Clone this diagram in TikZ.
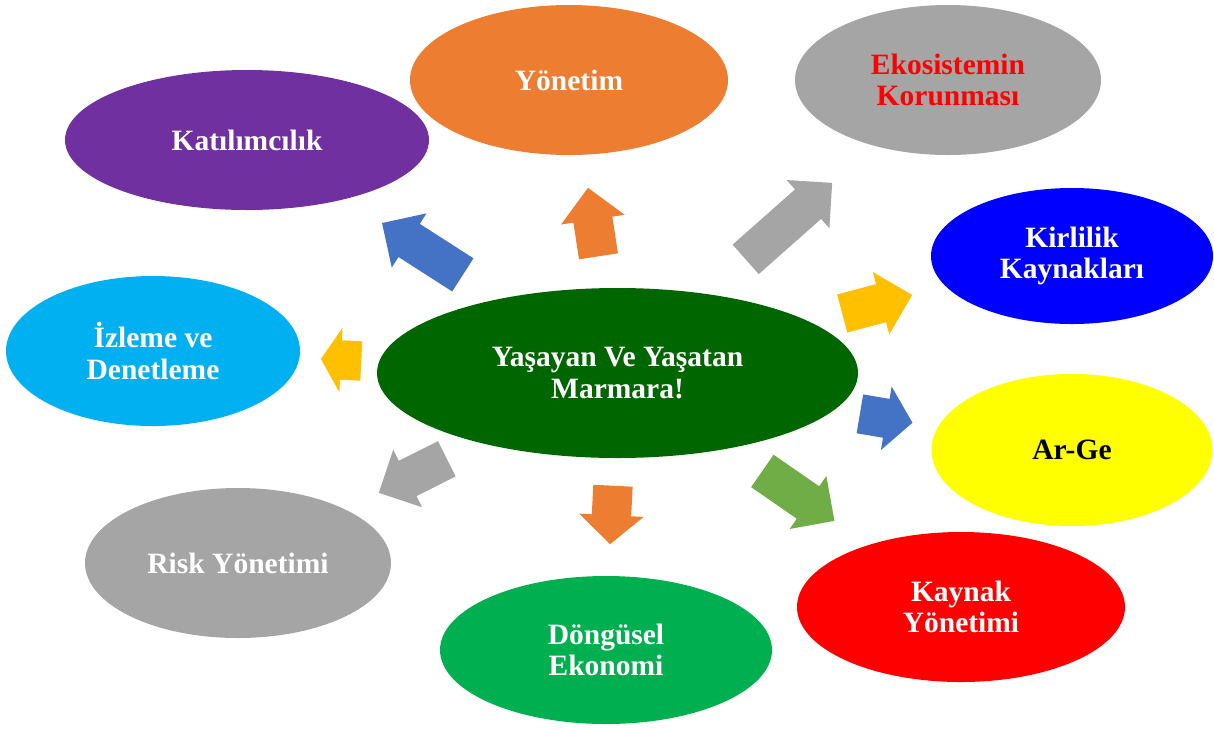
\documentclass[tikz,border=0pt]{standalone}
\usepackage{fontspec}
\setmainfont{Liberation Serif}
\usetikzlibrary{shapes.geometric,shapes.arrows}
\definecolor{cdgreen}{RGB}{0,102,0}
\definecolor{corange}{RGB}{237,125,49}
\definecolor{cgray}{RGB}{165,165,165}
\definecolor{cpurple}{RGB}{112,48,160}
\definecolor{cblue}{RGB}{0,0,255}
\definecolor{clblue}{RGB}{0,176,240}
\definecolor{cyellow}{RGB}{255,255,0}
\definecolor{cred}{RGB}{255,0,0}
\definecolor{cgreen}{RGB}{0,176,80}
\definecolor{abllue}{RGB}{68,114,196}
\definecolor{ayellow}{RGB}{255,192,0}
\definecolor{agreen}{RGB}{112,173,71}
\begin{document}
\begin{tikzpicture}[x=1pt,y=-1pt,
  bubble/.style={ellipse, inner sep=0pt, align=center,
    font=\fontsize{29.5}{31.5}\selectfont\bfseries, text=white},
  barr/.style={single arrow, anchor=tail, inner xsep=0pt, inner ysep=19.5pt, minimum width=64pt,
    single arrow head extend=12.5pt, draw=none}]
\useasboundingbox (0,0) rectangle (1214,729);
% ellipses
\node[bubble, fill=cdgreen, minimum width=481pt, minimum height=170pt] (center) at (617.5,373) {Yaşayan Ve Yaşatan\\Marmara!};
\node[bubble, fill=corange, minimum width=318pt, minimum height=150pt] (yonetim) at (569,80) {Yönetim};
\node[bubble, fill=cgray, text=cred, minimum width=306pt, minimum height=150pt] (eko) at (948,80) {Ekosistemin\\Korunması};
\node[bubble, fill=cpurple, minimum width=364pt, minimum height=140pt] (katil) at (247,140) {Katılımcılık};
\node[bubble, fill=cblue, minimum width=282pt, minimum height=136pt] (kirl) at (1072,256) {Kirlilik\\Kaynakları};
\node[bubble, fill=clblue, minimum width=294pt, minimum height=150pt] (izle) at (153,351) {İzleme ve\\Denetleme};
\node[bubble, fill=cyellow, text=black, minimum width=281pt, minimum height=152pt] (arge) at (1072,450) {Ar-Ge};
\node[bubble, fill=cgray, minimum width=306pt, minimum height=150pt] (risk) at (238,563) {Risk Yönetimi};
\node[bubble, fill=cred, minimum width=328pt, minimum height=150pt] (kaynak) at (961,607) {Kaynak\\Yönetimi};
\node[bubble, fill=cgreen, minimum width=332pt, minimum height=148pt] (dongu) at (606,650) {Döngüsel\\Ekonomi};
% block arrows (placed by their tail)
\node[barr, fill=abllue, minimum height=96pt, rotate=147.3] (a1) at (463,275) {};
\node[barr, fill=corange, minimum height=69.3pt, rotate=98.7] (a2) at (598.5,256.5) {};
\node[barr, fill=cgray, minimum height=115.5pt, rotate=41.5] (a3) at (745.5,259.5) {};
\node[barr, fill=ayellow, minimum height=72.4pt, rotate=14.8] (a4) at (842,313.5) {};
\node[barr, fill=ayellow, minimum height=40.5pt, single arrow tip angle=116, rotate=177.2] (a5) at (361.5,361) {};
\node[barr, fill=abllue, minimum height=53.3pt, single arrow tip angle=101, rotate=-9.6] (a6) at (859.7,413.8) {};
\node[barr, fill=cgray, minimum height=76pt, rotate=206.6] (a7) at (447,458.7) {};
\node[barr, fill=corange, minimum height=58.6pt, single arrow tip angle=96, rotate=-92.9] (a8) at (613,485.5) {};
\node[barr, fill=agreen, minimum height=87.7pt, rotate=-34.7] (a9) at (762.2,470.8) {};
\end{tikzpicture}
\end{document}
